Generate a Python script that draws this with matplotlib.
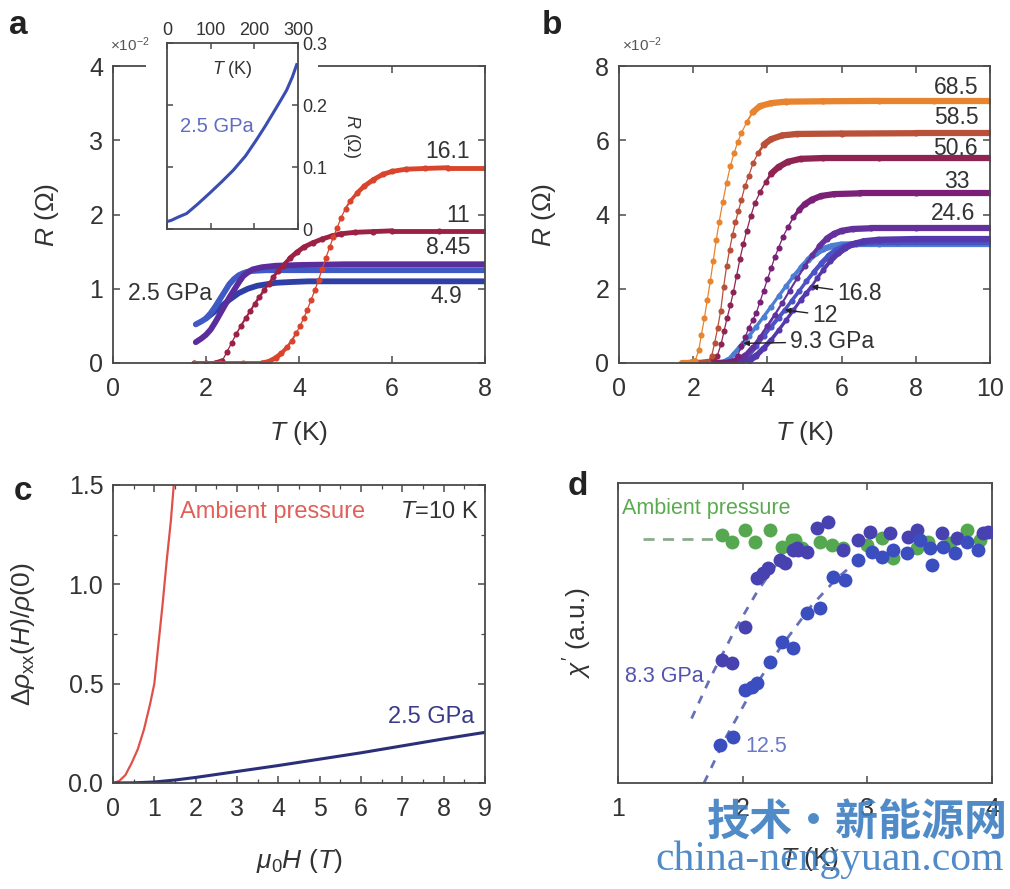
import numpy as np
import matplotlib
matplotlib.use('Agg')
import matplotlib.pyplot as plt
from matplotlib.collections import LineCollection
from matplotlib.patches import Rectangle
from matplotlib.ticker import MultipleLocator, FormatStrFormatter

plt.rcParams['font.family'] = ['Liberation Sans', 'DejaVu Sans']
plt.rcParams['mathtext.fontset'] = 'custom'
plt.rcParams['mathtext.rm'] = 'Liberation Sans'
plt.rcParams['mathtext.it'] = 'Liberation Sans:italic'
plt.rcParams['mathtext.bf'] = 'Liberation Sans:bold'

# ---------------- data: panel a (R in 1e-2 Ohm) ----------------
a_T_161 = [1.75, 2.3, 2.8, 3.2, 3.35, 3.5, 3.62, 3.74, 3.84, 3.94, 4.02, 4.1, 4.18, 4.26, 4.34, 4.42, 4.5,
           4.58, 4.66, 4.74, 4.82, 4.9, 5.0, 5.1, 5.25, 5.4, 5.6, 5.8, 6.0, 6.3, 6.7, 7.2, 8.0]
a_R_161 = [0, 0, 0, 0, 0.02, 0.07, 0.13, 0.21, 0.3, 0.4, 0.5, 0.6, 0.72, 0.85, 0.98, 1.12, 1.27,
           1.42, 1.56, 1.7, 1.82, 1.95, 2.08, 2.18, 2.29, 2.38, 2.47, 2.54, 2.58, 2.61, 2.62, 2.63, 2.63]
a_T_11 = [1.75, 2.0, 2.2, 2.35, 2.45, 2.55, 2.65, 2.75, 2.85, 2.95, 3.05, 3.15, 3.25, 3.35, 3.45, 3.55,
          3.65, 3.8, 3.95, 4.1, 4.3, 4.5, 4.7, 4.9, 5.2, 5.6, 6.0, 7.0, 8.0]
a_R_11 = [0, 0, 0, 0.03, 0.15, 0.27, 0.39, 0.5, 0.6, 0.7, 0.8, 0.89, 0.98, 1.07, 1.16, 1.24,
          1.31, 1.41, 1.49, 1.56, 1.62, 1.67, 1.71, 1.74, 1.76, 1.77, 1.78, 1.78, 1.78]
a_T_845 = [1.78, 1.9, 2.0, 2.1, 2.2, 2.3, 2.4, 2.5, 2.6, 2.7, 2.8, 2.9, 3.0, 3.2, 3.5, 4.0, 5.0, 6.0, 7.0, 8.0]
a_R_845 = [0.28, 0.33, 0.38, 0.45, 0.55, 0.66, 0.77, 0.88, 0.98, 1.08, 1.17, 1.22, 1.26, 1.29, 1.31, 1.32,
           1.33, 1.33, 1.33, 1.33]
a_T_25 = [1.78, 1.9, 2.0, 2.1, 2.2, 2.3, 2.4, 2.5, 2.6, 2.7, 2.8, 2.9, 3.0, 3.3, 3.7, 4.5, 6.0, 8.0]
a_R_25 = [0.52, 0.56, 0.6, 0.67, 0.76, 0.86, 0.96, 1.06, 1.13, 1.18, 1.21, 1.23, 1.24, 1.25, 1.25, 1.25,
          1.25, 1.25]
a_T_49 = [2.0, 2.1, 2.3, 2.5, 2.7, 2.9, 3.1, 3.3, 3.5, 3.8, 4.2, 5.0, 6.0, 8.0]
a_R_49 = [0.6, 0.65, 0.75, 0.85, 0.94, 1.0, 1.04, 1.06, 1.08, 1.09, 1.1, 1.1, 1.1, 1.1]
a_labels = ['16.1', '11', '8.45', '4.9', '2.5 GPa']

# inset (2.5 GPa, wide range)
in_T = [0, 10, 25, 45, 70, 98, 125, 152, 180, 205, 225, 243, 260, 274, 287, 297]
in_R = [0.012, 0.014, 0.019, 0.025, 0.04, 0.058, 0.076, 0.095, 0.118, 0.144, 0.166, 0.187, 0.207,
        0.224, 0.245, 0.265]

# ---------------- data: panel b ----------------
b_T_68 = [1.7, 1.9, 2.05, 2.15, 2.22, 2.3, 2.38, 2.46, 2.54, 2.62, 2.7, 2.8, 2.9, 3.0, 3.1, 3.2, 3.3,
          3.45, 3.6, 3.8, 4.1, 4.5, 5.5, 7.0, 8.5, 10.0]
b_R_68 = [0, 0, 0.05, 0.35, 0.75, 1.2, 1.7, 2.2, 2.75, 3.3, 3.8, 4.35, 4.85, 5.3, 5.65, 5.95, 6.2,
          6.5, 6.75, 6.92, 7.0, 7.04, 7.05, 7.06, 7.06, 7.06]
b_T_58 = [1.9, 2.2, 2.4, 2.5, 2.58, 2.66, 2.74, 2.82, 2.9, 2.98, 3.06, 3.14, 3.22, 3.3, 3.4, 3.5, 3.62,
          3.75, 3.9, 4.1, 4.4, 4.8, 6.0, 8.0, 10.0]
b_R_58 = [0, 0, 0.03, 0.2, 0.55, 0.95, 1.4, 2.05, 2.6, 3.05, 3.45, 3.8, 4.1, 4.4, 4.78, 5.05, 5.4,
          5.65, 5.88, 6.03, 6.13, 6.17, 6.18, 6.19, 6.19]
b_T_50 = [2.0, 2.4, 2.55, 2.65, 2.75, 2.83, 2.91, 3.0, 3.08, 3.17, 3.26, 3.35, 3.44, 3.55, 3.66, 3.8,
          3.95, 4.1, 4.3, 4.55, 4.9, 5.5, 7.0, 10.0]
b_R_50 = [0, 0, 0.05, 0.2, 0.5, 0.85, 1.2, 1.55, 1.9, 2.35, 2.8, 3.2, 3.55, 3.95, 4.3, 4.6,
          4.87, 5.1, 5.28, 5.42, 5.5, 5.52, 5.52, 5.52]
b_T_33 = [2.5, 2.9, 3.1, 3.2, 3.3, 3.4, 3.5, 3.6, 3.7, 3.8, 3.9, 4.0, 4.1, 4.2, 4.3, 4.42, 4.55, 4.7,
          4.85, 5.0, 5.2, 5.45, 5.8, 6.5, 8.0, 10.0]
b_R_33 = [0, 0, 0.05, 0.2, 0.45, 0.7, 0.95, 1.15, 1.35, 1.65, 1.95, 2.25, 2.55, 2.85, 3.1, 3.4, 3.65,
          3.92, 4.12, 4.27, 4.4, 4.5, 4.55, 4.57, 4.57, 4.57]
b_T_24 = [2.6, 3.0, 3.2, 3.4, 3.6, 3.8, 4.0, 4.2, 4.4, 4.6, 4.8, 5.0, 5.2, 5.4, 5.6, 5.8, 6.0, 6.3,
          6.8, 8.0, 10.0]
b_R_24 = [0, 0, 0.05, 0.2, 0.42, 0.7, 1.0, 1.3, 1.62, 1.95, 2.28, 2.6, 2.9, 3.15, 3.35, 3.48, 3.56,
          3.61, 3.63, 3.63, 3.63]
b_T_16 = [2.8, 3.3, 3.5, 3.7, 3.9, 4.1, 4.3, 4.5, 4.7, 4.9, 5.05, 5.19, 5.35, 5.5, 5.7, 5.9, 6.1, 6.3,
          6.6, 7.0, 8.0, 10.0]
b_R_16 = [0, 0, 0.05, 0.2, 0.4, 0.62, 0.88, 1.15, 1.42, 1.7, 1.88, 2.06, 2.3, 2.5, 2.75, 2.95, 3.1,
          3.2, 3.28, 3.32, 3.34, 3.34]
b_T_12 = [2.7, 3.1, 3.3, 3.5, 3.7, 3.9, 4.1, 4.3, 4.47, 4.65, 4.85, 5.05, 5.25, 5.45, 5.65, 5.85, 6.1,
          6.4, 6.8, 7.5, 10.0]
b_R_12 = [0, 0, 0.06, 0.22, 0.45, 0.72, 0.98, 1.22, 1.43, 1.67, 1.93, 2.2, 2.45, 2.68, 2.88, 3.03,
          3.15, 3.22, 3.25, 3.26, 3.26]
b_T_93 = [2.5, 2.8, 2.95, 3.1, 3.25, 3.35, 3.5, 3.7, 3.9, 4.1, 4.3, 4.5, 4.7, 4.9, 5.1, 5.3, 5.5,
          5.75, 6.0, 6.4, 7.0, 10.0]
b_R_93 = [0, 0, 0.08, 0.25, 0.42, 0.53, 0.72, 0.98, 1.25, 1.52, 1.8, 2.07, 2.33, 2.57, 2.78, 2.95,
          3.07, 3.15, 3.19, 3.2, 3.2, 3.2]
b_labels_top = ['68.5', '58.5', '50.6', '33', '24.6']
b_labels_arrow = ['16.8', '12', '9.3 GPa']

# ---------------- data: panel c ----------------
c_H_amb = [0, 0.15, 0.3, 0.45, 0.6, 0.75, 0.9, 1.0, 1.1, 1.2, 1.3, 1.4, 1.47, 1.52]
c_r_amb = [0, 0.01, 0.04, 0.1, 0.17, 0.27, 0.4, 0.5, 0.7, 0.9, 1.12, 1.32, 1.5, 1.62]
c_H_25 = [0, 0.5, 1, 1.5, 2, 3, 4, 5, 6, 7, 8, 9]
c_r_25 = [0, 0.001, 0.005, 0.015, 0.028, 0.058, 0.088, 0.12, 0.152, 0.187, 0.222, 0.255]

# ---------------- data: panel d ----------------
d_T_amb = [1.832, 1.912, 2.019, 2.099, 2.219, 2.313, 2.393, 2.420, 2.473, 2.621, 2.714, 2.808, 2.996,
           3.115, 3.209, 3.396, 3.490, 3.665, 3.797, 3.906]
d_y_amb = [0.827, 0.804, 0.843, 0.804, 0.843, 0.788, 0.810, 0.810, 0.782, 0.804, 0.793, 0.782, 0.793,
           0.816, 0.749, 0.782, 0.804, 0.799, 0.843, 0.810]
d_T_83 = [1.832, 1.912, 2.019, 2.112, 2.165, 2.206, 2.299, 2.340, 2.407, 2.433, 2.447, 2.514, 2.594,
          2.688, 2.808, 2.928, 3.022, 3.182, 3.329, 3.396, 3.597, 3.717, 3.931, 3.971]
d_y_83 = [0.410, 0.399, 0.521, 0.682, 0.699, 0.716, 0.743, 0.732, 0.777, 0.782, 0.777, 0.771, 0.849,
          0.871, 0.777, 0.810, 0.838, 0.832, 0.821, 0.843, 0.832, 0.816, 0.832, 0.838]
d_T_125 = [1.818, 1.925, 2.019, 2.072, 2.112, 2.219, 2.313, 2.407, 2.514, 2.621, 2.728, 2.821, 2.928,
           3.035, 3.115, 3.209, 3.316, 3.423, 3.503, 3.516, 3.610, 3.704, 3.797, 3.891]
d_y_125 = [0.127, 0.154, 0.310, 0.321, 0.332, 0.404, 0.471, 0.449, 0.566, 0.582, 0.688, 0.677, 0.743,
           0.771, 0.754, 0.777, 0.766, 0.810, 0.782, 0.727, 0.788, 0.766, 0.805, 0.777]
d_fit_amb_T = [1.2, 1.78]
d_fit_amb_y = [0.812, 0.812]
d_fit83_T = [1.59, 1.74, 1.95, 2.12, 2.28]
d_fit83_y = [0.215, 0.35, 0.52, 0.64, 0.735]
d_fit125_T = [1.69, 1.85, 2.05, 2.3, 2.55, 2.75, 2.92]
d_fit125_y = [0.0, 0.14, 0.29, 0.45, 0.59, 0.68, 0.74]

# ---------------- figure ----------------
W, H = 1010, 889
fig = plt.figure(figsize=(W / 100, H / 100), dpi=100)


def px_axes(l, r, t, b, **kw):
    return fig.add_axes([l / W, 1 - b / H, (r - l) / W, (b - t) / H], **kw)


SP = '#4a4a4a'
TXT = '#333333'


def style(ax, size=18):
    for s in ax.spines.values():
        s.set_color(SP)
        s.set_linewidth(1.3)
    ax.tick_params(which='both', direction='in', top=True, right=True, color=SP,
                   labelsize=size, pad=7, labelcolor=TXT)
    ax.tick_params(axis='x', which='both', pad=10)
    ax.tick_params(which='major', length=5, width=1.1)
    ax.tick_params(which='minor', length=3, width=0.9)


def trace(ax, x, y, color, thick=4.0, thin=0.9, ms=4.4, z=2):
    x = np.asarray(x, float)
    y = np.asarray(y, float)
    P = ax.transData.transform(np.column_stack([x, y]))
    d = np.diff(P, axis=0)
    ang = np.degrees(np.arctan2(np.abs(d[:, 1]), np.abs(d[:, 0]) + 1e-9))
    f = np.clip((62 - ang) / 20, 0, 1)
    w = thin + (thick - thin) * f
    segs = np.stack([np.column_stack([x[:-1], y[:-1]]), np.column_stack([x[1:], y[1:]])], axis=1)
    lc = LineCollection(segs, linewidths=w, colors=color, capstyle='round', zorder=z)
    ax.add_collection(lc)
    ax.plot(x, y, 'o', ms=ms, color=color, mec='none', zorder=z)


# ---------- panel a ----------
axA = px_axes(113, 485, 66, 363)
axA.set_xlim(0, 8)
axA.set_ylim(0, 4)
axA.set_xticks([0, 2, 4, 6, 8])
axA.set_yticks([0, 1, 2, 3, 4])
style(axA)
axA.plot(a_T_49, a_R_49, color='#2f3fa6', lw=4.2, solid_capstyle='round', zorder=2)
axA.plot(a_T_25, a_R_25, color='#3f5ac4', lw=4.2, solid_capstyle='round', zorder=2)
axA.plot(a_T_845, a_R_845, color='#5b2d9c', lw=4.2, solid_capstyle='round', zorder=2)
trace(axA, a_T_11, a_R_11, '#9c2145', thick=3.5)
trace(axA, a_T_161, a_R_161, '#d9452c', thick=3.5)
for lab, (tx, ty) in zip(a_labels, [(7.2, 2.85), (7.42, 1.99), (7.2, 1.55), (7.18, 0.89), (1.23, 0.94)]):
    axA.text(tx, ty, lab, ha='center', va='center', fontsize=16.5, color=TXT, zorder=5)
axA.set_xlabel('$T$ (K)', fontsize=19, color=TXT)
axA.set_ylabel('$R$ (Ω)', fontsize=19, color=TXT)
axA.xaxis.set_label_coords(0.5, -0.19)
axA.yaxis.set_label_coords(-0.14, 0.5)
fig.text(110 / W, 1 - 45 / H, '×10$^{-2}$', fontsize=11, color='#555555', va='center', ha='left')
fig.add_artist(Rectangle((146 / W, 1 - 74 / H), (318 - 146) / W, 16 / H, transform=fig.transFigure,
                         facecolor='white', edgecolor='none', zorder=1))

# inset
axIn = px_axes(167, 298, 43, 229, zorder=3)
axIn.set_xlim(0, 300)
axIn.set_ylim(0, 0.3)
axIn.set_xticks([0, 100, 200, 300])
axIn.set_yticks([0, 0.1, 0.2, 0.3])
axIn.set_yticklabels(['0', '0.1', '0.2', '0.3'])
style(axIn, size=13)
axIn.tick_params(labeltop=True, labelbottom=False, labelright=True, labelleft=False, pad=3)
axIn.tick_params(axis='x', pad=3)
axIn.tick_params(which='major', length=4)
axIn.plot(in_T, in_R, color='#3a4db0', lw=2.2)
axIn.text(0.5, 0.86, '$T$ (K)', transform=axIn.transAxes, ha='center', va='center', fontsize=13,
          color=TXT)
axIn.text(0.38, 0.55, '2.5 GPa', transform=axIn.transAxes, ha='center', va='center', fontsize=14.5,
          color='#5f6cc2')
axIn.text(1.41, 0.5, '$R$ (Ω)', transform=axIn.transAxes, rotation=-90, ha='center', va='center',
          fontsize=13, color=TXT)

# ---------- panel b ----------
axB = px_axes(619, 990, 66, 363)
axB.set_xlim(0, 10)
axB.set_ylim(0, 8)
axB.set_xticks([0, 2, 4, 6, 8, 10])
axB.set_yticks([0, 2, 4, 6, 8])
style(axB)
trace(axB, b_T_93, b_R_93, '#4c7fd2', thick=4.5)
trace(axB, b_T_12, b_R_12, '#4a52c4', thick=4.5)
trace(axB, b_T_16, b_R_16, '#5638ad', thick=4.5)
trace(axB, b_T_24, b_R_24, '#64309c', thick=4.5)
trace(axB, b_T_33, b_R_33, '#7a2077', thick=4.5)
trace(axB, b_T_50, b_R_50, '#8f2352', thick=4.5)
trace(axB, b_T_58, b_R_58, '#b8503a', thick=4.5)
trace(axB, b_T_68, b_R_68, '#e8832e', thick=4.5)
for lab, (tx, ty) in zip(b_labels_top, [(9.1, 7.43), (9.1, 6.6), (9.06, 5.79), (9.1, 4.89), (9.0, 4.03)]):
    axB.text(tx, ty, lab, ha='center', va='center', fontsize=16.5, color=TXT, zorder=5)
for lab, tip, txt in zip(b_labels_arrow, [(5.19, 2.06), (4.47, 1.43), (3.35, 0.53)],
                         [(5.87, 1.88), (5.2, 1.29), (4.6, 0.57)]):
    axB.annotate(lab, xy=tip, xytext=txt, ha='left', va='center', fontsize=16.5, color=TXT, zorder=6,
                 arrowprops=dict(arrowstyle='-|>', color='#222222', lw=1.0, mutation_scale=8,
                                 shrinkA=1, shrinkB=0))
axB.set_xlabel('$T$ (K)', fontsize=19, color=TXT)
axB.set_ylabel('$R$ (Ω)', fontsize=19, color=TXT)
axB.xaxis.set_label_coords(0.5, -0.19)
axB.yaxis.set_label_coords(-0.165, 0.5)
fig.text(622 / W, 1 - 45 / H, '×10$^{-2}$', fontsize=11, color='#555555', va='center', ha='left')

# ---------- panel c ----------
axC = px_axes(113, 485, 485, 783)
axC.set_xlim(0, 9)
axC.set_ylim(0, 1.5)
axC.set_xticks(range(0, 10))
axC.set_yticks([0, 0.5, 1.0, 1.5])
axC.yaxis.set_major_formatter(FormatStrFormatter('%.1f'))
axC.xaxis.set_minor_locator(MultipleLocator(0.5))
axC.yaxis.set_minor_locator(MultipleLocator(0.25))
style(axC)
axC.plot(c_H_amb, c_r_amb, color='#e0504a', lw=1.6)
axC.plot(c_H_25, c_r_25, color='#2b2f78', lw=2.2)
axC.text(1.62, 1.366, 'Ambient pressure', ha='left', va='center', fontsize=17, color='#e0605a')
axC.text(8.85, 1.366, '$T$=10 K', ha='right', va='center', fontsize=17, color=TXT)
axC.text(8.75, 0.33, '2.5 GPa', ha='right', va='center', fontsize=17, color='#3a3a8a')
axC.set_xlabel(r'$\mu_0H$ ($T$)', fontsize=19, color=TXT)
axC.set_ylabel(r'$\Delta\rho_{\rm xx}(H)/\rho(0)$', fontsize=19, color=TXT)
axC.xaxis.set_label_coords(0.5, -0.215)
axC.yaxis.set_label_coords(-0.205, 0.5)

# ---------- panel d ----------
axD = px_axes(618, 992, 483, 783)
axD.set_xlim(1, 4)
axD.set_ylim(0, 1)
axD.set_xticks([1, 2, 3, 4])
axD.set_yticks([])
style(axD)
axD.plot(d_fit_amb_T, d_fit_amb_y, ls=(0, (4, 3)), color='#8caa8c', lw=2)
axD.plot(d_fit83_T, d_fit83_y, ls=(0, (3, 3)), color='#6670b8', lw=2)
axD.plot(d_fit125_T, d_fit125_y, ls=(0, (3, 3)), color='#6670b8', lw=2)
axD.plot(d_T_amb, d_y_amb, 'o', ms=10, color='#55a84f', mec='none', zorder=3)
axD.plot(d_T_83, d_y_83, 'o', ms=10, color='#4842b0', mec='none', zorder=3)
axD.plot(d_T_125, d_y_125, 'o', ms=10, color='#3b4ec0', mec='none', zorder=3)
axD.text(1.03, 0.916, 'Ambient pressure', ha='left', va='center', fontsize=15.5, color='#5aaa50')
axD.text(1.06, 0.354, '8.3 GPa', ha='left', va='center', fontsize=15.5, color='#5252b0')
axD.text(2.02, 0.12, '12.5', ha='left', va='center', fontsize=15.5, color='#6a78c8')
axD.set_xlabel('$T$ (K)', fontsize=19, color=TXT)
axD.set_ylabel(r"$\chi'$ (a.u.)", fontsize=19, color=TXT)
axD.xaxis.set_label_coords(0.513, -0.207)
axD.yaxis.set_label_coords(-0.065, 0.5)

# panel letters
for lab, (x, y) in zip(['a', 'b', 'c', 'd'], [(18, 25), (552, 25), (23, 492), (578, 486)]):
    fig.text(x / W, 1 - y / H, lab, fontsize=24, fontweight='bold', ha='center', va='center',
             color='#222222')

# watermark overlay
fig.text(707 / W, 1 - 822 / H, '技术・新能源网', fontsize=31, fontweight='bold',
         family=['Noto Sans CJK SC', 'DejaVu Sans'], color='#3d7fc1', ha='left', va='center',
         alpha=0.9, zorder=10)
fig.text(655 / W, 1 - 860 / H, 'china-nengyuan.com', fontsize=30,
         family=['Liberation Serif', 'DejaVu Serif'], color='#3d7fc1', ha='left', va='center',
         alpha=0.9, zorder=10)

fig.savefig('out.png', dpi=100)
